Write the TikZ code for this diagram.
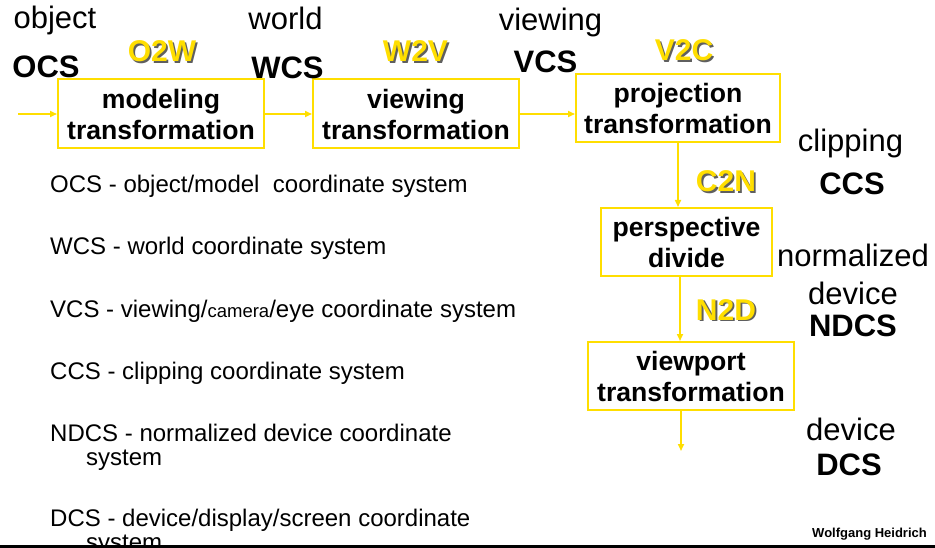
\documentclass[tikz,border=0pt]{standalone}
\usepackage{fontspec}
\setmainfont{Liberation Sans}
\usetikzlibrary{arrows.meta}
\definecolor{yel}{RGB}{255,222,0}
\definecolor{shad}{RGB}{95,95,95}
\newcommand{\shadtxt}[1]{\rlap{\kern1.8pt\raisebox{-1.8pt}{\textcolor{shad}{#1}}}#1}
\tikzset{
  stagebox/.style={draw=yel, line width=2pt, inner sep=0pt, align=center,
    font=\fontsize{26.6}{31}\selectfont\bfseries},
  arr/.style={draw=yel, line width=1.6pt, -{Triangle[length=7pt,width=6pt]}},
  lbl/.style={anchor=base, inner sep=0pt, font=\fontsize{31}{31}\selectfont},
  lblb/.style={anchor=base, inner sep=0pt, font=\fontsize{31}{31}\selectfont\bfseries},
  ylbl/.style={anchor=base, inner sep=0pt, text=yel, font=\fontsize{30}{30}\selectfont\bfseries},
  item/.style={anchor=base west, inner sep=0pt, align=left, font=\fontsize{24}{24}\selectfont},
}
\begin{document}
\begin{tikzpicture}[x=1pt,y=-1pt]
\useasboundingbox (0,0) rectangle (935,548);
\clip (0,0) rectangle (935,548);
% boxes
\node[stagebox, minimum width=206pt, minimum height=69pt] (b1) at (161,114) {modeling\\transformation};
\node[stagebox, minimum width=206pt, minimum height=69pt] (b2) at (416,114) {viewing\\transformation};
\node[stagebox, minimum width=204pt, minimum height=68pt] (b3) at (678,108) {projection\\transformation};
\node[stagebox, minimum width=171pt, minimum height=68pt] (b4) at (686.5,242) {perspective\\divide};
\node[stagebox, minimum width=206pt, minimum height=68pt] (b5) at (691,376) {viewport\\transformation};
% connectors
\coordinate (in) at (18,114);
\coordinate (out) at (681,451);
\draw[arr] (in) -- (b1.west);
\draw[arr] (b1.east) -- (b2.west);
\draw[arr] (b2.east) -- (b2.east -| b3.west);
\draw[arr] (b3.south) -- (b3.south |- b4.north);
\draw[arr] (b4.south -| 680,0) -- (b5.north -| 680,0);
\draw[arr] (b5.south -| out) -- (out);
% top labels
\node[lbl] (tobj) at (55,29) {object};
\node[lblb] (tocs) at (46,78) {OCS};
\node[lbl] (twld) at (285.5,30) {world};
\node[lblb] (twcs) at (287.5,79) {WCS};
\node[lbl] (tview) at (550.5,31) {viewing};
\node[lblb] (tvcs) at (545.5,73) {VCS};
% yellow labels with shadow
\node[ylbl] (o2w) at (162,62) {\shadtxt{O2W}};
\node[ylbl] (w2v) at (415.5,62) {\shadtxt{W2V}};
\node[ylbl] (v2c) at (684,61) {\shadtxt{V2C}};
\node[ylbl] (c2n) at (726,192) {\shadtxt{C2N}};
\node[ylbl] (n2d) at (726,320) {\shadtxt{N2D}};
% right labels
\node[lbl] (rclip) at (850.5,152) {clipping};
\node[lblb] (rccs) at (852,195) {CCS};
\node[lbl] (rnorm) at (853,267) {normalized};
\node[lbl] (rdev1) at (853,305) {device};
\node[lblb] (rndcs) at (853,337) {NDCS};
\node[lbl] (rdev2) at (851,440) {device};
\node[lblb] (rdcs) at (849,475) {DCS};
% list
\node[item] (l1) at (50,193) {OCS - object/model\ \ coordinate system};
\node[item] (l2) at (50,255) {WCS - world coordinate system};
\node[item] (l3) at (50,317) {VCS - viewing/{\fontsize{18.5}{18}\selectfont camera}/eye coordinate system};
\node[item] (l4) at (50,379) {CCS - clipping coordinate system};
\node[item] (l5) at (50,465) {NDCS - normalized device coordinate\\\hspace*{36pt}system};
\node[item] (l6) at (50,550) {DCS - device/display/screen coordinate\\\hspace*{36pt}system};
% author
\node[anchor=base east, inner sep=0pt, font=\fontsize{13}{13}\selectfont\bfseries] (auth) at (927,537) {Wolfgang Heidrich};
\fill[black] (0,545) rectangle (935,547.5);
\end{tikzpicture}
\end{document}
